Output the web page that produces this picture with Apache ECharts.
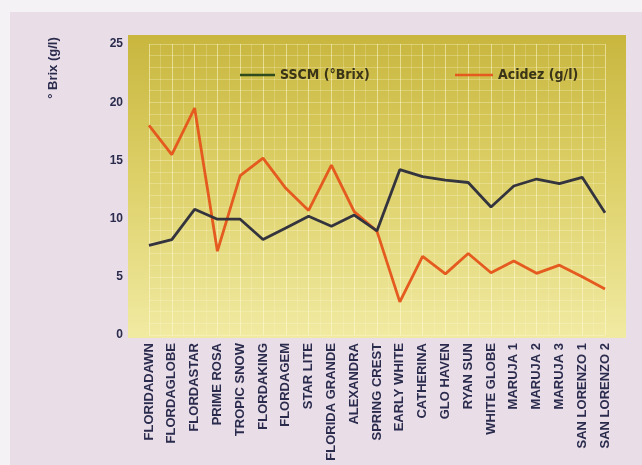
<!DOCTYPE html>
<html>
<head>
<meta charset="utf-8">
<script src="https://cdn.jsdelivr.net/npm/echarts@6/dist/echarts.min.js"></script>
<style>
html,body{margin:0;padding:0;background:#f4f2f4;}
#c{width:642px;height:465px;}
</style>
</head>
<body>
<div id="c"></div>
<script>
const categories = ['FLORIDADAWN','FLORDAGLOBE','FLORDASTAR','PRIME ROSA','TROPIC SNOW','FLORDAKING','FLORDAGEM','STAR LITE','FLORIDA GRANDE','ALEXANDRA','SPRING CREST','EARLY WHITE','CATHERINA','GLO HAVEN','RYAN SUN','WHITE GLOBE','MARUJA 1','MARUJA 2','MARUJA 3','SAN LORENZO 1','SAN LORENZO 2'];
const sscm = [7.7, 8.2, 10.8, 9.95, 9.95, 8.2, 9.2, 10.2, 9.35, 10.3, 8.95, 14.2, 13.6, 13.3, 13.1, 11.0, 12.8, 13.4, 13.0, 13.55, 10.5];
const acidez = [18.0, 15.5, 19.5, 7.2, 13.7, 15.2, 12.6, 10.7, 14.6, 10.6, 8.9, 2.85, 6.75, 5.25, 7.0, 5.35, 6.35, 5.3, 6.0, 5.0, 3.95];
const yTicks = [0, 5, 10, 15, 20, 25];
const seriesNames = ['SSCM (°Brix)', 'Acidez (g/l)'];
const yTitle = '° Brix (g/l)';

const labelColor = '#2a2b4d';
const chart = echarts.init(document.getElementById('c'), null, {renderer: 'canvas'});
chart.setOption({
  animation: false,
  backgroundColor: 'transparent',
  graphic: [
    {type: 'rect', z: -10, shape: {x: 10, y: 12, width: 632, height: 453}, style: {fill: '#e9dee8'}},
    {type: 'rect', z: -9, shape: {x: 128, y: 35, width: 498, height: 303},
     style: {fill: new echarts.graphic.LinearGradient(0, 0, 0, 1, [
       {offset: 0, color: '#c8b63e'},
       {offset: 0.45, color: '#dccf66'},
       {offset: 1, color: '#f1eaa2'}
     ])}},
    {type: 'text', x: 53, y: 68, rotation: Math.PI / 2,
     style: {text: yTitle, fill: labelColor, font: 'bold 13px "Liberation Sans"', align: 'center', verticalAlign: 'middle'}}
  ],
  grid: {left: 149, right: 37, top: 44, bottom: 130, containLabel: false},
  legend: [
    {left: 235, top: 63, itemWidth: 35, itemHeight: 14, icon: 'path://M0,6 L35,6 L35,8.5 L0,8.5 Z',
     data: [{name: seriesNames[0], itemStyle: {color: '#2f4a1c'}}],
     textStyle: {color: '#3a3418', fontSize: 14, fontWeight: 'bold', fontFamily: 'DejaVu Sans Condensed, DejaVu Sans'}},
    {left: 450, top: 63, itemWidth: 38, itemHeight: 14, icon: 'path://M0,6 L38,6 L38,8.5 L0,8.5 Z',
     data: [{name: seriesNames[1], itemStyle: {color: '#e45a1f'}}],
     textStyle: {color: '#3a3418', fontSize: 14, fontWeight: 'bold', fontFamily: 'DejaVu Sans Condensed, DejaVu Sans'}}
  ],
  xAxis: [{
    type: 'category', data: categories, boundaryGap: false,
    axisLine: {show: false}, axisTick: {show: false},
    splitLine: {show: true, lineStyle: {color: 'rgba(255,252,215,0.4)', width: 1}},
    axisLabel: {rotate: 90, interval: 0, margin: 8, color: labelColor, fontSize: 13, fontWeight: 'bold', fontFamily: 'Liberation Sans'}
  }, {
    type: 'value', min: 0, max: 20, interval: 0.5, position: 'top',
    axisLine: {show: false}, axisTick: {show: false}, axisLabel: {show: false},
    splitLine: {show: true, lineStyle: {color: 'rgba(255,252,215,0.22)', width: 1}}
  }],
  yAxis: {
    type: 'value', min: yTicks[0], max: yTicks[yTicks.length - 1], interval: 5,
    axisLine: {show: false}, axisTick: {show: false},
    axisLabel: {margin: 26, color: labelColor, fontSize: 12, fontWeight: 'bold', fontFamily: 'Liberation Sans'},
    splitLine: {show: true, lineStyle: {color: 'rgba(255,252,215,0.35)', width: 1}},
    minorTick: {show: false, splitNumber: 5},
    minorSplitLine: {show: true, lineStyle: {color: 'rgba(255,252,215,0.28)', width: 1}}
  },
  series: [
    {name: seriesNames[0], type: 'line', data: sscm, showSymbol: false, symbol: 'none',
     lineStyle: {color: '#34343f', width: 2.8}, itemStyle: {color: '#2f4a1c'}, z: 3},
    {name: seriesNames[1], type: 'line', data: acidez, showSymbol: false, symbol: 'none',
     lineStyle: {color: '#e45a1f', width: 2.8}, itemStyle: {color: '#e45a1f'}, z: 2}
  ]
});
</script>
</body>
</html>
